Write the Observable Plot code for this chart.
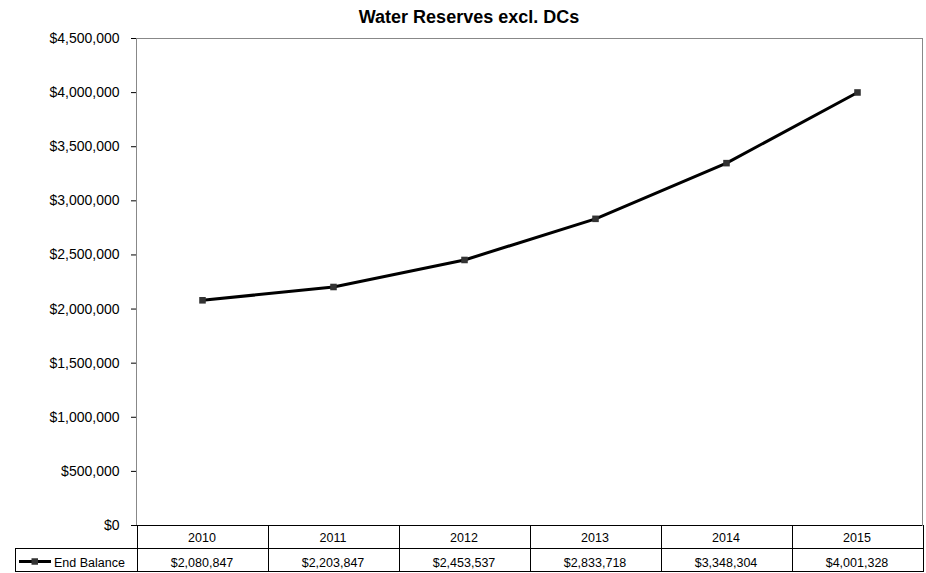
<!DOCTYPE html>
<html>
<head>
<meta charset="utf-8">
<script src="https://cdn.jsdelivr.net/npm/d3@7"></script>
<script src="https://cdn.jsdelivr.net/npm/@observablehq/plot@0.6"></script>
<style>
  html, body { margin: 0; padding: 0; background: #fff; }
  #chart svg g[aria-label^="y-axis"] text { font-size: 14px; }
</style>
</head>
<body>
<div id="chart"></div>
<script>
const title = "Water Reserves excl. DCs";
const seriesName = "End Balance";
const years = ["2010", "2011", "2012", "2013", "2014", "2015"];
const endBalance = [2080847, 2203847, 2453537, 2833718, 3348304, 4001328];
const yTicks = [0, 500000, 1000000, 1500000, 2000000, 2500000, 3000000, 3500000, 4000000, 4500000];

const data = years.map((year, i) => ({year, value: endBalance[i]}));
const money = d3.format("$,");
const font = "'Liberation Sans', Arial, Helvetica, sans-serif";

// Chart title, centred over the whole figure.
function chartTitle(index, scales, values, dims) {
  return d3.create("svg:text")
    .attr("x", dims.width / 2 + 6)
    .attr("y", 23)
    .attr("text-anchor", "middle")
    .attr("font-family", font)
    .attr("font-size", 18)
    .attr("font-weight", "bold")
    .attr("fill", "black")
    .text(title)
    .node();
}

// Data table under the plot area: a row of years and a row of values,
// one column per year aligned on the x scale, plus a legend cell.
function dataTable(index, scales, values, dims) {
  const x = scales.x;
  const step = x(years[1]) - x(years[0]);
  const top = dims.height - dims.marginBottom;
  const mid = top + 23;
  const bottom = top + 46;
  const legendLeft = 15;
  const tableRight = x(years[years.length - 1]) + step / 2;
  const g = d3.create("svg:g")
    .attr("font-family", font)
    .attr("font-size", 12.5)
    .attr("fill", "black");

  const lines = g.append("g").attr("stroke", "black").attr("stroke-width", 1);
  for (const yy of [mid, bottom]) {
    lines.append("line")
      .attr("x1", legendLeft).attr("x2", tableRight + 1)
      .attr("y1", yy + 0.5).attr("y2", yy + 0.5);
  }
  lines.append("line")
    .attr("x1", legendLeft + 0.5).attr("x2", legendLeft + 0.5)
    .attr("y1", mid).attr("y2", bottom + 1);
  const edges = years.map(yr => x(yr) - step / 2).concat([tableRight]);
  for (const ex of edges) {
    lines.append("line")
      .attr("x1", Math.round(ex) + 0.5).attr("x2", Math.round(ex) + 0.5)
      .attr("y1", top).attr("y2", bottom + 1);
  }

  years.forEach((yr, i) => {
    g.append("text")
      .attr("x", x(yr)).attr("y", top + 16.5)
      .attr("text-anchor", "middle")
      .text(yr);
    g.append("text")
      .attr("x", x(yr)).attr("y", mid + 18.5)
      .attr("text-anchor", "middle")
      .text(money(endBalance[i]));
  });

  // legend key
  const ky = mid + 13.5;
  g.append("line")
    .attr("x1", 19).attr("x2", 51).attr("y1", ky).attr("y2", ky)
    .attr("stroke", "black").attr("stroke-width", 3);
  g.append("rect")
    .attr("x", 31.5).attr("y", ky - 3.25).attr("width", 6.5).attr("height", 6.5)
    .attr("fill", "#333");
  g.append("text")
    .attr("x", 54).attr("y", mid + 18.5)
    .attr("text-anchor", "start")
    .text(seriesName);

  return g.node();
}

const chart = Plot.plot({
  width: 926,
  height: 573,
  marginTop: 38,
  marginBottom: 48,
  marginLeft: 136,
  marginRight: 4,
  style: {fontFamily: font, fontSize: "14px", color: "black", background: "white"},
  x: {type: "point", domain: years, padding: 0.5, axis: null},
  y: {
    domain: [0, 4500000],
    ticks: yTicks,
    tickFormat: money,
    tickSize: 5,
    tickPadding: 12,
    line: true,
    label: null
  },
  marks: [
    Plot.frame({stroke: "#888"}),
    Plot.ruleY([0], {stroke: "black"}),
    Plot.line(data, {x: "year", y: "value", stroke: "black", strokeWidth: 3}),
    Plot.dot(data, {x: "year", y: "value", symbol: "square", r: 3.7, fill: "#333", stroke: "none"}),
    chartTitle,
    dataTable
  ]
});

document.getElementById("chart").appendChild(chart);
</script>
</body>
</html>
